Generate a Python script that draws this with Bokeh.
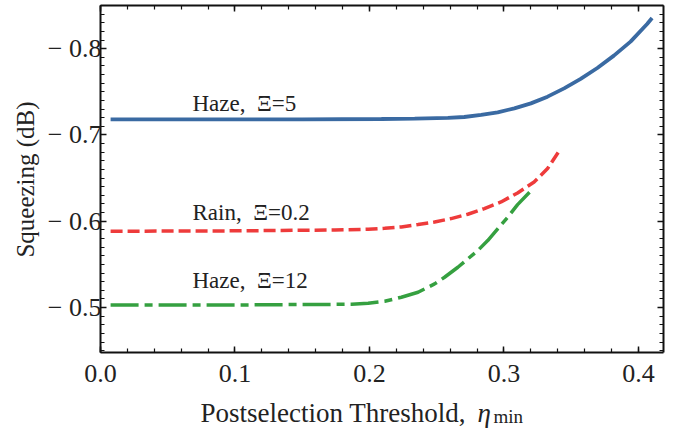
from bokeh.plotting import figure
from bokeh.models import Range1d, LinearAxis, FixedTicker, Label, CustomJSTickFormatter, NumeralTickFormatter
from bokeh.embed import file_html
from bokeh.resources import INLINE
import numpy as np

# ---- data ----
eta_blue = [0.0075, 0.05, 0.1, 0.15, 0.2089, 0.2336, 0.2583, 0.2704, 0.283, 0.2953, 0.3077, 0.32, 0.3324,
            0.3447, 0.357, 0.3694, 0.3817, 0.3941, 0.4064, 0.4101]
sq_blue = [-0.718, -0.718, -0.718, -0.718, -0.7185, -0.7189, -0.7197, -0.7208, -0.7232, -0.7262, -0.7308,
           -0.7366, -0.7444, -0.7540, -0.7649, -0.7776, -0.7919, -0.8081, -0.8286, -0.8356]

eta_red = [0.0075, 0.05, 0.1, 0.152, 0.1743, 0.199, 0.2113, 0.2237, 0.2361, 0.2484, 0.2607, 0.2731, 0.2854,
           0.2978, 0.3101, 0.3224, 0.3324, 0.341]
sq_red = [-0.5885, -0.5886, -0.5889, -0.5896, -0.5898, -0.5907, -0.5919, -0.5934, -0.5962, -0.5992, -0.6031,
          -0.6081, -0.6147, -0.6224, -0.6328, -0.6455, -0.6611, -0.6815]

eta_green = [0.0075, 0.05, 0.1, 0.1496, 0.1867, 0.199, 0.2113, 0.2237, 0.2361, 0.2484, 0.2558, 0.2657, 0.2731,
             0.2805, 0.2879, 0.2953, 0.3027, 0.3101, 0.3207]
sq_green = [-0.503, -0.503, -0.503, -0.5035, -0.5038, -0.505, -0.5073, -0.512, -0.5177, -0.5274, -0.5351,
            -0.5467, -0.5564, -0.5660, -0.5776, -0.5912, -0.6046, -0.6193, -0.6364]

labels_text = ["Haze,\u2002\u039e=5", "Rain,\u2002\u039e=0.2", "Haze,\u2002\u039e=12"]
labels_x = [0.0684, 0.0684, 0.0684]
labels_y = [-0.736, -0.6102, -0.531]

x_ticks = [0.0, 0.1, 0.2, 0.3, 0.4]
y_ticks = [-0.8, -0.7, -0.6, -0.5]
y_tick_labels = ["\u2212 0.8", "\u2212 0.7", "\u2212 0.6", "\u2212 0.5"]

x_lo, x_hi = 0.0, 0.4186
y_lo, y_hi = -0.4481, -0.85

FONT = "Liberation Serif"
TXT = "#222222"
AX = "#111111"

p = figure(width=677, height=429, output_backend="svg", toolbar_location=None,
           x_range=Range1d(-0.07435, 0.4290), y_range=Range1d(-0.3587, -0.8558),
           x_axis_location=None, y_axis_location=None,
           min_border=0, background_fill_color="white", border_fill_color="white")
p.grid.visible = False
p.outline_line_color = None

xt = FixedTicker(ticks=x_ticks, minor_ticks=list(np.round(np.arange(0.0, 0.42, 0.02), 3)))
yt = FixedTicker(ticks=y_ticks, minor_ticks=list(np.round(np.arange(-0.85, -0.445, 0.01), 3)))
blank = CustomJSTickFormatter(code="return ''")

def make_axis(ticker, loc, bounds, show_labels):
    ax = LinearAxis(ticker=ticker, fixed_location=loc, bounds=bounds)
    ax.axis_line_width = 2
    ax.axis_line_color = AX
    ax.major_tick_in = 6
    ax.major_tick_out = 0
    ax.minor_tick_in = 4
    ax.minor_tick_out = 0
    ax.major_tick_line_width = 1.5
    ax.minor_tick_line_width = 1.2
    ax.major_tick_line_color = AX
    ax.minor_tick_line_color = AX
    if show_labels:
        ax.major_label_text_font = FONT
        ax.major_label_text_font_size = "26px"
        ax.major_label_text_color = TXT
    else:
        ax.formatter = blank
    return ax

bottom = make_axis(xt, y_lo, (x_lo, x_hi), True)
bottom.formatter = NumeralTickFormatter(format="0.0")
bottom.major_label_standoff = 13
p.add_layout(bottom, "below")
top = make_axis(xt, y_hi, (x_lo, x_hi), False)
p.add_layout(top, "above")
left = make_axis(yt, x_lo, (y_hi, y_lo), True)
left.major_label_standoff = -1
left.major_label_overrides = {t: s for t, s in zip(y_ticks, y_tick_labels)}
p.add_layout(left, "left")
right = make_axis(yt, x_hi, (y_hi, y_lo), False)
p.add_layout(right, "right")

p.line(eta_blue, sq_blue, line_color="#3a6aa2", line_width=3.8)
p.line(eta_red, sq_red, line_color="#ee3b3b", line_width=3.5, line_dash="12 5")
p.line(eta_green, sq_green, line_color="#35a040", line_width=3.5, line_dash="28 6 8 6")

for t, x, y in zip(labels_text, labels_x, labels_y):
    p.add_layout(Label(x=x, y=y, text=t, text_font=FONT, text_font_size="23px",
                       text_color=TXT, text_baseline="alphabetic", text_align="left"))

# axis titles (screen units, origin at bottom-left of the canvas)
p.add_layout(Label(x=200, y=17, x_units="screen", y_units="screen",
                   text="Postselection Threshold,", text_font=FONT,
                   text_font_size="27px", text_color=TXT, text_baseline="alphabetic"))
p.add_layout(Label(x=477, y=17, x_units="screen", y_units="screen",
                   text="\u03b7", text_font=FONT, text_font_style="italic",
                   text_font_size="27px", text_color=TXT, text_baseline="alphabetic"))
p.add_layout(Label(x=493, y=13, x_units="screen", y_units="screen",
                   text="min", text_font=FONT,
                   text_font_size="19px", text_color=TXT, text_baseline="alphabetic"))
p.add_layout(Label(x=25, y=250, x_units="screen", y_units="screen", angle=np.pi / 2,
                   text="Squeezing (dB)", text_font=FONT,
                   text_font_size="25px", text_color=TXT, text_baseline="middle", text_align="center"))

open("out.html", "w").write(file_html(p, INLINE))
